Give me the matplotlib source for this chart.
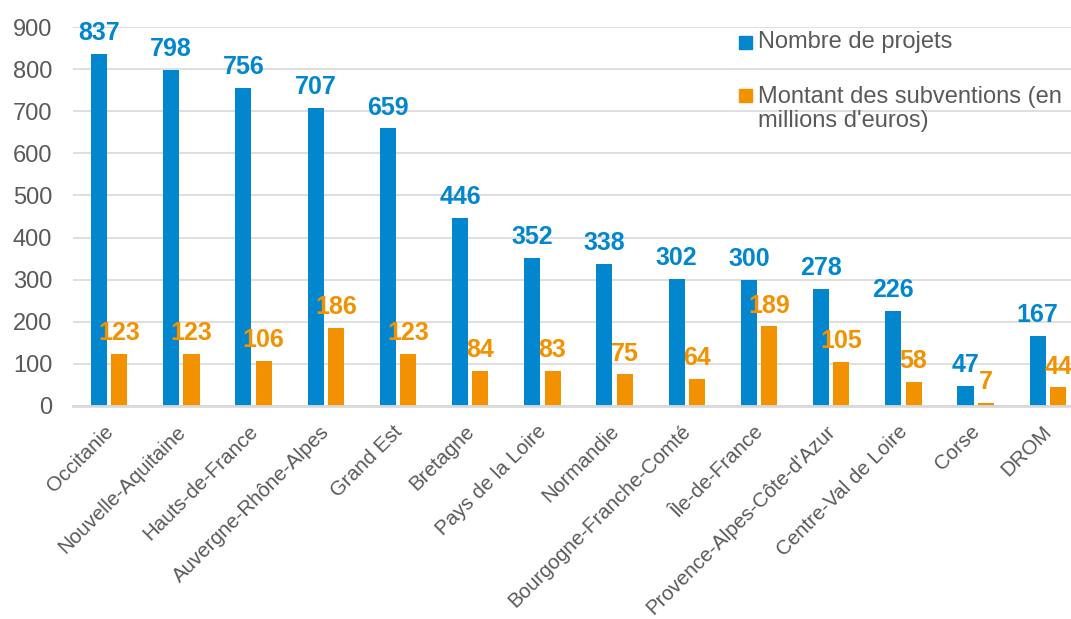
import numpy as np
import matplotlib.pyplot as plt
from matplotlib.patches import Rectangle
from matplotlib.transforms import ScaledTranslation

plt.rcParams['font.family'] = ['Liberation Sans', 'DejaVu Sans']
plt.rcParams['font.size'] = 16

regions = ['Occitanie', 'Nouvelle-Aquitaine', 'Hauts-de-France',
           'Auvergne-Rhône-Alpes', 'Grand Est', 'Bretagne', 'Pays de la Loire',
           'Normandie', 'Bourgogne-Franche-Comté', 'Île-de-France',
           "Provence-Alpes-Côte-d'Azur", 'Centre-Val de Loire', 'Corse', 'DROM']
projets = [837, 798, 756, 707, 659, 446, 352, 338, 302, 300, 278, 226, 47, 167]
subventions = [123, 123, 106, 186, 123, 84, 83, 75, 64, 189, 105, 58, 7, 44]

blue = '#0287CF'
orange = '#F39200'
grey = '#595959'
W, H = 1071, 619

fig = plt.figure(figsize=(W / 100, H / 100), dpi=100)
ax = fig.add_axes([73 / W, 213 / H, 1011 / W, 379 / H])

x = np.arange(len(regions))
bw = 0.222
off = 0.141
ax.bar(x - off, projets, bw, color=blue, zorder=3)
ax.bar(x + off, subventions, bw, color=orange, zorder=3)

for xi, v in zip(x, projets):
    ax.annotate(str(v), (xi - off, v), xytext=(0, 10), textcoords='offset points',
                ha='center', va='baseline', color=blue, fontweight='bold',
                fontsize=18, annotation_clip=False)
for xi, v in zip(x, subventions):
    ax.annotate(str(v), (xi + off, v), xytext=(0, 10), textcoords='offset points',
                ha='center', va='baseline', color=orange, fontweight='bold',
                fontsize=18, annotation_clip=False)

ax.set_xlim(-0.5, 13.5)
ax.set_ylim(0, 900)
ax.set_yticks(range(0, 901, 100))
ax.yaxis.grid(True, color='#D9D9D9', linewidth=1.2, zorder=0)
ax.set_axisbelow(True)
for s in ['top', 'right', 'left']:
    ax.spines[s].set_visible(False)
ax.spines['bottom'].set_color('#D9D9D9')
ax.spines['bottom'].set_linewidth(2)
ax.spines['bottom'].set_zorder(4)
ax.tick_params(axis='y', length=0, pad=15, labelcolor=grey, labelsize=17)
ax.tick_params(axis='x', length=0, pad=11.5, labelcolor=grey, labelsize=14.8)
ax.set_xticks(x)
ax.set_xticklabels(regions, rotation=45, ha='right', va='top', rotation_mode='anchor')
shift = ScaledTranslation(-4 / 72, 0, fig.dpi_scale_trans)
for lab in ax.get_xticklabels():
    lab.set_transform(lab.get_transform() + shift)

# legend
fig.patches.append(Rectangle((739 / W, 1 - 49 / H), 13 / W, 13 / H, color=blue,
                             transform=fig.transFigure, figure=fig))
fig.text(758 / W, 1 - 42 / H, 'Nombre de projets', color=grey, fontsize=17,
         va='center', ha='left')
fig.patches.append(Rectangle((739 / W, 1 - 102 / H), 13 / W, 13 / H, color=orange,
                             transform=fig.transFigure, figure=fig))
fig.text(758 / W, 1 - 109 / H, "Montant des subventions (en\nmillions d'euros)",
         color=grey, fontsize=17, va='center', ha='left', linespacing=1.15)

fig.savefig('out.png', dpi=100)
